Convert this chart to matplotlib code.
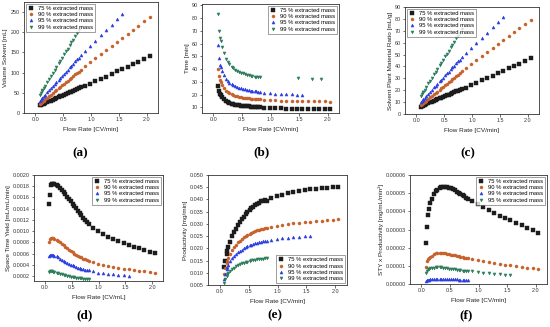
import matplotlib
matplotlib.use("Agg")
import matplotlib.pyplot as plt
from matplotlib.ticker import FormatStrFormatter, MultipleLocator

plt.rcParams['font.family'] = ['Liberation Sans', 'DejaVu Sans']

# ---------------- data ----------------
x_dense = [0.08, 0.10, 0.12, 0.13, 0.15, 0.18, 0.22, 0.25, 0.28, 0.32, 0.35, 0.38, 0.42,
           0.45, 0.48, 0.52, 0.55, 0.58, 0.62, 0.65, 0.68, 0.72, 0.75, 0.78, 0.82]
x_sparse = [0.89, 0.99, 1.08, 1.18, 1.27, 1.37, 1.47, 1.56, 1.66, 1.76, 1.85, 1.95, 2.05]
x_sparse95 = x_sparse[:8]

labels = ["75 % extracted mass", "90 % extracted mass", "95 % extracted mass", "99 % extracted mass"]
labels_f = ["75 % extracted mass", "90 % extracted mass", "99 % extracted mass", "95 % extracted mass"]

# (a) Volume solvent [mL]
vol_75 = [18.8, 20.0, 21.2, 21.8, 23.0, 24.8, 27.2, 29.0, 30.8, 33.2, 35.0, 36.8, 39.2, 41.0, 42.8,
          45.2, 47.0, 48.8, 51.2, 53.0, 54.8, 57.2, 59.0, 60.8, 63.2,
          66.0, 72.4, 78.1, 84.5, 90.2, 96.6, 103.0, 108.7, 115.1, 121.5, 127.2, 133.6, 140.0]
vol_90 = [22.2, 24.5, 26.8, 28.0, 30.3, 33.7, 38.3, 41.8, 45.2, 49.8, 53.3, 56.7, 61.3, 64.8, 68.2,
          72.8, 76.3, 79.7, 84.3, 87.8, 91.2, 95.8, 99.3, 102.7, 107.3,
          115.5, 126.0, 135.4, 145.9, 155.4, 165.9, 176.4, 185.8, 196.3, 206.8, 216.3, 226.8, 237.3]
vol_95 = [30.2, 33.3, 36.4, 37.9, 41.0, 45.5, 51.7, 56.3, 60.8, 67.0, 71.6, 76.1, 82.3, 86.9, 91.4,
          97.6, 102.2, 106.7, 112.9, 117.5, 122.0, 128.2, 132.8, 137.3, 143.5,
          153.0, 166.6, 178.9, 192.5, 204.7, 218.3, 231.9, 244.2]
vol_99 = [45.2, 49.8, 54.4, 56.6, 61.2, 68.0, 77.2, 84.0, 90.8, 100.0, 106.8, 113.6, 122.8, 129.6,
          136.4, 145.6, 152.4, 159.2, 168.4, 175.2, 182.0, 191.2, 198.0, 204.8, 214.0]

# (b) Time [min]
time_75 = [26.4, 22.8, 20.4, 19.5, 18.0, 16.4, 14.9, 14.1, 13.5, 12.8, 12.4, 12.1, 11.8, 11.5, 11.3,
           11.1, 10.9, 10.8, 10.6, 10.5, 10.4, 10.3, 10.2, 10.2, 10.1,
           9.43, 9.26, 9.14, 9.03, 8.94, 8.86, 8.79, 8.73, 8.67, 8.62, 8.58, 8.54, 8.51]
time_90 = [39.8, 34.5, 31.0, 29.6, 27.5, 25.2, 23.1, 21.9, 21.0, 20.1, 19.5, 19.0, 18.5, 18.2, 17.9,
           17.5, 17.3, 17.1, 16.9, 16.7, 16.6, 16.4, 16.3, 16.2, 16.1,
           15.75, 15.52, 15.35, 15.19, 15.07, 14.96, 14.86, 14.78, 14.70, 14.64, 14.58, 14.53, 14.48]
time_95 = [59.0, 48.5, 43.5, 41.6, 38.5, 35.2, 32.1, 30.5, 29.2, 27.9, 27.1, 26.4, 25.6, 25.2, 24.8,
           24.3, 24.0, 23.7, 23.3, 23.1, 22.9, 22.7, 22.5, 22.3, 22.2,
           21.3, 20.9, 20.7, 20.5, 20.3, 20.1, 20.0, 19.9]
time_99 = [83.0, 70.0, 64.7, 61.8, 57.3, 52.5, 48.0, 45.6, 43.7, 41.75, 40.6, 39.6, 38.5, 37.8, 37.2,
           36.5, 36.0, 35.6, 35.1, 34.8, 34.5, 34.1, 33.9, 33.6, 33.4]
x_time99_extra = [1.48, 1.72, 1.88]
time_99_extra = [33.0, 32.0, 32.0]

# (c) Solvent plant material ratio [mL/g]
ratio_75 = [6.3, 6.7, 7.1, 7.3, 7.7, 8.3, 9.1, 9.7, 10.3, 11.1, 11.7, 12.3, 13.1, 13.7, 14.3, 15.1,
            15.7, 16.3, 17.1, 17.7, 18.3, 19.1, 19.7, 20.3, 21.1,
            22.0, 24.1, 26.0, 28.2, 30.1, 32.2, 34.3, 36.2, 38.4, 40.5, 42.4, 44.5, 46.7]
ratio_90 = [7.4, 8.2, 8.9, 9.3, 10.1, 11.2, 12.8, 13.9, 15.1, 16.6, 17.8, 18.9, 20.4, 21.6, 22.7,
            24.3, 25.4, 26.6, 28.1, 29.3, 30.4, 31.9, 33.1, 34.2, 35.8,
            38.5, 42.0, 45.1, 48.6, 51.8, 55.3, 58.8, 61.9, 65.4, 68.9, 72.1, 75.6, 79.1]
ratio_95 = [10.1, 11.1, 12.1, 12.6, 13.7, 15.2, 17.2, 18.8, 20.3, 22.3, 23.9, 25.4, 27.4, 29.0, 30.5,
            32.5, 34.1, 35.6, 37.6, 39.2, 40.7, 42.7, 44.3, 45.8, 47.8,
            51.0, 55.5, 59.6, 64.2, 68.2, 72.8, 77.3, 81.4]
ratio_99 = [15.1, 16.6, 18.1, 18.9, 20.4, 22.7, 25.7, 28.0, 30.3, 33.3, 35.6, 37.9, 40.9, 43.2, 45.5,
            48.5, 50.8, 53.1, 56.1, 58.4, 60.7, 63.7, 66.0, 68.3, 71.3]

# (d) Space time yield
sty_75 = [0.00148, 0.00165, 0.00182, 0.00184, 0.00184, 0.00184, 0.00182, 0.00180, 0.00177, 0.00173,
          0.00170, 0.00166, 0.00161, 0.00157, 0.00154, 0.00149, 0.00145, 0.00141, 0.00136, 0.00132,
          0.00128, 0.00124, 0.00120, 0.00117, 0.00113,
          0.00106, 0.00100, 0.00095, 0.00090, 0.00086, 0.00082, 0.00078, 0.00075, 0.00072, 0.00069,
          0.00066, 0.00063, 0.00061]
sty_90 = [0.00080, 0.00085, 0.00087, 0.00088, 0.00087, 0.00086, 0.00084, 0.00082, 0.00080, 0.00077,
          0.00075, 0.00072, 0.00069, 0.00067, 0.00065, 0.00062, 0.00060, 0.00058, 0.00056, 0.00054,
          0.00053, 0.00051, 0.00050, 0.00048, 0.00047,
          0.00045, 0.00042, 0.00040, 0.00038, 0.00036, 0.00035, 0.00033, 0.00032, 0.00031, 0.00029,
          0.00028, 0.00027, 0.00026]
sty_95 = [0.00055, 0.00057, 0.00058, 0.00058, 0.00057, 0.00056, 0.00055, 0.00053, 0.00051, 0.00049,
          0.00047, 0.00045, 0.00043, 0.00042, 0.00040, 0.00039, 0.00037, 0.00036, 0.00035, 0.00034,
          0.00033, 0.00032, 0.00031, 0.00030, 0.00030,
          0.00028, 0.00026, 0.00025, 0.00024, 0.00023, 0.00022, 0.00021, 0.00020]
sty_99 = [0.00027, 0.00028, 0.00028, 0.00028, 0.00027, 0.00027, 0.00026, 0.00025, 0.00024, 0.00023,
          0.00022, 0.00021, 0.00020, 0.00020, 0.00019, 0.00018, 0.00018, 0.00017, 0.00017, 0.00016,
          0.00016, 0.00015, 0.00015, 0.00015, 0.00014]

# (e) Productivity [mg/min]
prod_75 = [0.0125, 0.0150, 0.0175, 0.0190, 0.0205, 0.0225, 0.0250, 0.0265, 0.0280, 0.0295, 0.0308,
           0.0318, 0.0330, 0.0340, 0.0348, 0.0357, 0.0364, 0.0370, 0.0377, 0.0382, 0.0387, 0.0392,
           0.0395, 0.0397, 0.0395,
           0.0405, 0.0413, 0.0420, 0.0426, 0.0431, 0.0435, 0.0438, 0.0441, 0.0443, 0.0445, 0.0447,
           0.0449, 0.0451]
prod_90 = [0.0095, 0.0120, 0.0140, 0.0150, 0.0162, 0.0178, 0.0195, 0.0205, 0.0215, 0.0225, 0.0232,
           0.0238, 0.0245, 0.0250, 0.0255, 0.0260, 0.0264, 0.0268, 0.0271, 0.0274, 0.0277, 0.0279,
           0.0281, 0.0282, 0.0284,
           0.0288, 0.0293, 0.0297, 0.0300, 0.0303, 0.0305, 0.0307, 0.0309, 0.0311, 0.0313, 0.0315,
           0.0317, 0.0319]
prod_95 = [0.0075, 0.0095, 0.0115, 0.0123, 0.0133, 0.0147, 0.0160, 0.0168, 0.0176, 0.0184, 0.0190,
           0.0195, 0.0200, 0.0204, 0.0208, 0.0212, 0.0215, 0.0218, 0.0221, 0.0223, 0.0225, 0.0227,
           0.0229, 0.0230, 0.0231,
           0.0235, 0.0238, 0.0241, 0.0243, 0.0245, 0.0247, 0.0249, 0.0250]
prod_99 = [0.0060, 0.0075, 0.0088, 0.0093, 0.0100, 0.0108, 0.0116, 0.0121, 0.0126, 0.0131, 0.0135,
           0.0138, 0.0142, 0.0144, 0.0146, 0.0149, 0.0151, 0.0152, 0.0154, 0.0155, 0.0156, 0.0157,
           0.0158, 0.0159, 0.0160]

# (f) STY x Productivity
stp_75 = [2.25e-5, 3.15e-5, 3.8e-5, 4.15e-5, 4.45e-5, 4.7e-5, 4.95e-5, 5.1e-5, 5.2e-5, 5.28e-5,
          5.32e-5, 5.35e-5, 5.35e-5, 5.33e-5, 5.3e-5, 5.26e-5, 5.21e-5, 5.15e-5, 5.08e-5, 5.02e-5,
          4.95e-5, 4.88e-5, 4.82e-5, 4.76e-5, 4.68e-5,
          4.55e-5, 4.38e-5, 4.22e-5, 4.06e-5, 3.92e-5, 3.77e-5, 3.62e-5, 3.5e-5, 3.37e-5, 3.23e-5,
          3.1e-5, 2.95e-5, 2.78e-5]
stp_90 = [0.95e-5, 1.25e-5, 1.4e-5, 1.45e-5, 1.5e-5, 1.56e-5, 1.63e-5, 1.68e-5, 1.71e-5, 1.72e-5,
          1.72e-5, 1.71e-5, 1.69e-5, 1.67e-5, 1.65e-5, 1.62e-5, 1.6e-5, 1.57e-5, 1.54e-5, 1.52e-5,
          1.49e-5, 1.47e-5, 1.45e-5, 1.43e-5, 1.41e-5,
          1.37e-5, 1.32e-5, 1.27e-5, 1.22e-5, 1.17e-5, 1.12e-5, 1.07e-5, 1.03e-5, 0.98e-5, 0.94e-5,
          0.9e-5, 0.86e-5, 0.82e-5]
stp_99 = [0.18e-5, 0.21e-5, 0.23e-5, 0.24e-5, 0.25e-5, 0.27e-5, 0.28e-5, 0.29e-5, 0.29e-5, 0.29e-5,
          0.29e-5, 0.28e-5, 0.28e-5, 0.27e-5, 0.27e-5, 0.26e-5, 0.26e-5, 0.25e-5, 0.25e-5, 0.24e-5,
          0.24e-5, 0.23e-5, 0.23e-5, 0.23e-5, 0.22e-5]
stp_95 = [0.58e-5, 0.72e-5, 0.8e-5, 0.83e-5, 0.86e-5, 0.88e-5, 0.9e-5, 0.91e-5, 0.92e-5, 0.92e-5,
          0.91e-5, 0.9e-5, 0.88e-5, 0.86e-5, 0.85e-5, 0.83e-5, 0.82e-5, 0.8e-5, 0.78e-5, 0.77e-5,
          0.76e-5, 0.74e-5, 0.73e-5, 0.72e-5, 0.71e-5,
          0.69e-5, 0.66e-5, 0.63e-5, 0.6e-5, 0.57e-5, 0.54e-5, 0.51e-5, 0.48e-5]

# ---------------- style ----------------
C_BLACK = "#1c1c1c"
C_ORANGE = "#c8622c"
C_BLUE = "#2c3fe0"
C_GREEN = "#2e7d5c"
styles = [(C_BLACK, "s"), (C_ORANGE, "o"), (C_BLUE, "^"), (C_GREEN, "v")]
MS = 2.2
FS_TICK = 3.9
FS_LAB = 4.6
FS_LEG = 4.2

fig = plt.figure(figsize=(5.5, 3.27), dpi=100)
W, H = 550.0, 327.0


def make_ax(l, r, t, b):
    return fig.add_axes([l / W, 1 - b / H, (r - l) / W, (b - t) / H])


def style_ax(ax, ylabel, xlabel, ylim, ymaj, yfmt):
    ax.set_xlim(-0.2, 2.2)
    ax.set_ylim(*ylim)
    ax.xaxis.set_major_locator(MultipleLocator(0.5))
    ax.xaxis.set_major_formatter(FormatStrFormatter("%.1f"))
    ax.yaxis.set_major_locator(MultipleLocator(ymaj))
    ax.yaxis.set_major_formatter(FormatStrFormatter(yfmt))
    ax.tick_params(direction="out", length=1.8, width=0.5, labelsize=FS_TICK, pad=1.2,
                   colors="#333333")
    for s in ax.spines.values():
        s.set_linewidth(0.6)
        s.set_color("#333333")
    ax.set_ylabel(ylabel, fontsize=FS_LAB, labelpad=1.5, color="#222222")
    ax.set_xlabel(xlabel, fontsize=FS_LAB, labelpad=3.5, color="#222222")


def series(ax, xs, ys, i, label):
    c, m = styles[i]
    ax.plot(xs, ys, linestyle="none", marker=m, ms=MS, mfc=c, mec=c, mew=0.3, label=label)


def legend(ax, loc):
    lg = ax.legend(loc=loc, fontsize=FS_LEG, frameon=True, fancybox=False, handlelength=1.0,
                   handletextpad=0.7, borderpad=0.35, labelspacing=0.2, borderaxespad=0.3,
                   markerscale=1.0)
    lg.get_frame().set_linewidth(0.5)
    lg.get_frame().set_edgecolor("#555555")


def panel_label(x, y, txt):
    fig.text(x / W, 1 - y / H, txt, fontsize=9.5, fontweight="bold",
             family=["Liberation Serif", "DejaVu Serif"], ha="center", va="center")


xd_xs = x_dense + x_sparse
xd_xs95 = x_dense + x_sparse95

# (a)
ax = make_ax(24, 158, 2, 113)
series(ax, xd_xs, vol_75, 0, labels[0])
series(ax, xd_xs, vol_90, 1, labels[1])
series(ax, xd_xs95, vol_95, 2, labels[2])
series(ax, x_dense, vol_99, 3, labels[3])
style_ax(ax, "Volume Solvent [mL]", "Flow Rate [CV/min]", (0, 275), 50, "%d")
legend(ax, "upper left")
panel_label(80, 153, "(a)")

# (b)
ax = make_ax(202, 339, 4, 113)
series(ax, xd_xs, time_75, 0, labels[0])
series(ax, xd_xs, time_90, 1, labels[1])
series(ax, xd_xs95, time_95, 2, labels[2])
series(ax, x_dense + x_time99_extra, time_99 + time_99_extra, 3, labels[3])
style_ax(ax, "Time [min]", "Flow Rate [CV/min]", (5.5, 91), 10, "%d")
legend(ax, "upper right")
panel_label(261, 152, "(b)")

# (c)
ax = make_ax(405, 539, 7, 114)
series(ax, xd_xs, ratio_75, 0, labels[0])
series(ax, xd_xs, ratio_90, 1, labels[1])
series(ax, xd_xs95, ratio_95, 2, labels[2])
series(ax, x_dense, ratio_99, 3, labels[3])
style_ax(ax, "Solvent Plant Material Ratio [mL/g]", "Flow Rate [CV/min]", (0, 90), 10, "%d")
legend(ax, "upper left")
panel_label(468, 153, "(c)")

# (d)
ax = make_ax(34, 163, 175, 281)
series(ax, xd_xs, sty_75, 0, labels[0])
series(ax, xd_xs, sty_90, 1, labels[1])
series(ax, xd_xs95, sty_95, 2, labels[2])
series(ax, x_dense, sty_99, 3, labels[3])
style_ax(ax, "Space Time Yield [mL/mL/min]", "Flow Rate [CV/mL]", (0.00011, 0.0020), 0.0002, "%.4f")
legend(ax, "upper right")
panel_label(85, 315, "(d)")

# (e)
ax = make_ax(208, 347, 175, 285)
series(ax, xd_xs, prod_75, 0, labels[0])
series(ax, xd_xs, prod_90, 1, labels[1])
series(ax, xd_xs95, prod_95, 2, labels[2])
series(ax, x_dense, prod_99, 3, labels[3])
style_ax(ax, "Productivity [mg/min]", "Flow Rate [CV/min]", (0.005, 0.050), 0.005, "%.3f")
legend(ax, "lower right")
panel_label(275, 315, "(e)")

# (f)
ax = make_ax(410, 547, 175, 284)
series(ax, xd_xs, stp_75, 0, labels_f[0])
series(ax, xd_xs, stp_90, 1, labels_f[1])
series(ax, x_dense, stp_99, 2, labels_f[2])
series(ax, xd_xs95, stp_95, 3, labels_f[3])
style_ax(ax, "STY x Productivity [mg/mL/min²]", "Flow Rate [CV/min]", (0, 0.00006), 0.00001, "%.5f")
legend(ax, "upper right")
panel_label(466, 315, "(f)")

fig.savefig("out.png", dpi=100)
